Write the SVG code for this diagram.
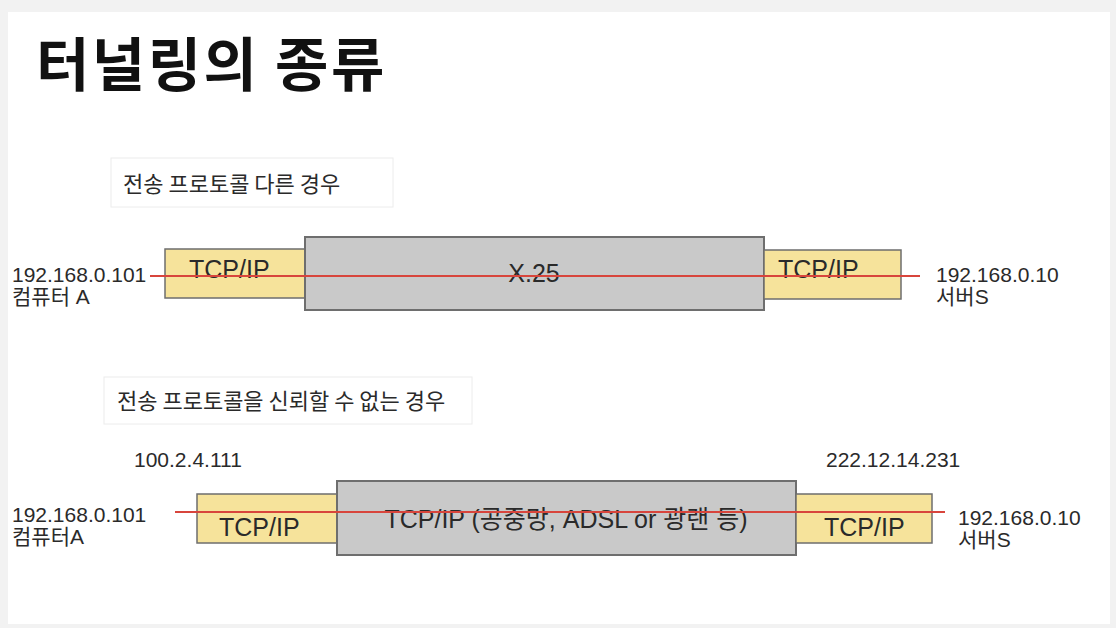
<svg xmlns="http://www.w3.org/2000/svg" width="1116" height="628" viewBox="0 0 1116 628">
<style>
.t{font-family:"Liberation Sans","Noto Sans CJK KR",sans-serif;fill:#2a2a2a}
.k{font-family:"Noto Sans CJK KR","Liberation Sans",sans-serif;fill:#2a2a2a}
.y{fill:#f6e39b;stroke:#6e6e6e;stroke-width:1.5}
.g{fill:#c9c9c9;stroke:#6e6e6e;stroke-width:2}
.cap{fill:#fff;stroke:#ececec;stroke-width:1}
.red{stroke:#d8453c;stroke-width:2;fill:none}
.ip{font-size:21px}
.lb{font-size:25px}
</style>
<rect x="0" y="0" width="1116" height="628" fill="#f2f2f2"/>
<rect x="8" y="12" width="1102" height="612" fill="#ffffff"/>
<text x="36" y="86" font-family="Noto Sans CJK KR, sans-serif" font-weight="700" font-size="58" letter-spacing="2.5" fill="#111">터널링의 종류</text>

<g id="caption1">
<rect class="cap" x="111" y="158" width="282" height="49"/>
<text class="k" x="123" y="192" font-size="22">전송 프로토콜 다른 경우</text>
</g>
<g id="caption2">
<rect class="cap" x="104" y="377" width="368" height="47"/>
<text class="k" x="117" y="409" font-size="22">전송 프로토콜을 신뢰할 수 없는 경우</text>
</g>

<g id="row1-left-tcpip">
<rect class="y" x="165" y="249" width="140" height="49"/>
<text class="t lb" x="189" y="278">TCP/IP</text>
</g>
<g id="row1-x25">
<rect class="g" x="305" y="237" width="459" height="73"/>
<text class="t lb" x="534" y="282" text-anchor="middle">X.25</text>
</g>
<g id="row1-right-tcpip">
<rect class="y" x="764" y="250" width="137" height="49"/>
<text class="t lb" x="778" y="278">TCP/IP</text>
</g>
<g id="row1-client">
<text class="t ip" x="12" y="282">192.168.0.101</text>
<text class="t ip" x="12" y="304">컴퓨터 A</text>
</g>
<g id="row1-server">
<text class="t ip" x="936" y="282">192.168.0.10</text>
<text class="t ip" x="936" y="304">서버S</text>
</g>

<g id="row2-left-tcpip">
<rect class="y" x="197" y="494" width="140" height="49"/>
<text class="t lb" x="219" y="536">TCP/IP</text>
</g>
<g id="row2-public">
<rect class="g" x="337" y="481" width="459" height="74"/>
<text class="t lb" x="566" y="528" text-anchor="middle">TCP/IP (공중망, ADSL or 광랜 등)</text>
</g>
<g id="row2-right-tcpip">
<rect class="y" x="796" y="494" width="136" height="49"/>
<text class="t lb" x="824" y="536">TCP/IP</text>
</g>
<g id="row2-client">
<text class="t ip" x="12" y="522">192.168.0.101</text>
<text class="t ip" x="12" y="544">컴퓨터A</text>
<text class="t ip" x="134" y="467">100.2.4.111</text>
</g>
<g id="row2-server">
<text class="t ip" x="958" y="525">192.168.0.10</text>
<text class="t ip" x="958" y="547">서버S</text>
<text class="t ip" x="826" y="467">222.12.14.231</text>
</g>

<g id="connectors">
<line class="red" x1="150" y1="276" x2="920" y2="276"/>
<line class="red" x1="175" y1="512" x2="945" y2="512"/>
</g>
</svg>
